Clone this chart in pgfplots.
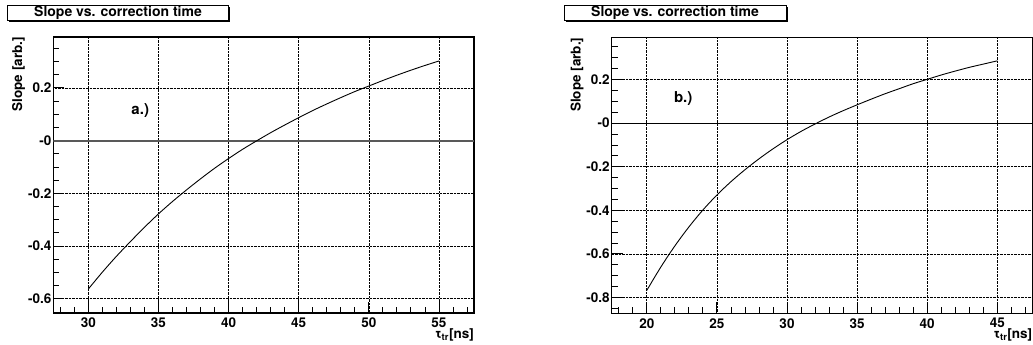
\documentclass[border=0pt]{standalone}
\usepackage{fontspec}
\setmainfont{TeX Gyre Heros}
\usepackage{pgfplots}
\pgfplotsset{compat=1.18}

\pgfplotsset{
  rootstyle/.style={
    scale only axis,
    clip mode=individual,
    width=420.7pt, height=276pt,
    axis line style={line width=1.5pt},
    tick pos=left,
    tick align=inside,
    major tick length=11pt,
    minor tick length=6pt,
    every tick/.style={black, line width=0.8pt},
    grid=major,
    major grid style={densely dotted, black, line width=0.6pt},
    tick label style={font=\bfseries\fontsize{13.5}{15}\selectfont},
    xticklabel style={yshift=-1.5pt},
    yticklabel style={xshift=1.5pt},
    /pgf/number format/assume math mode=true,
    xlabel style={at={(rel axis cs:1,0)}, anchor=north east, inner sep=0pt, yshift=-15pt, font=\bfseries\fontsize{13.5}{15}\selectfont},
    xlabel={τ\textsubscript{tr}[ns]},
  }
}

\begin{document}
\begin{tikzpicture}
\path[use as bounding box] (0,0) rectangle (1033pt,345pt);

% ---------- left panel ----------
\begin{axis}[rootstyle,
  at={(53.3pt,32pt)}, anchor=south west,
  xmin=27.5, xmax=57.5, ymin=-0.654, ymax=0.393,
  xtick={30,35,40,45,50,55}, xticklabels={30,35,40,45,50,55},
  minor xtick={28,29,...,57},
  ytick={-0.6,-0.4,-0.2,0,0.2}, yticklabels={-0.6,-0.4,-0.2,-0,0.2},
  minor ytick={-0.65,-0.6,...,0.36},
]
\addplot[black!65, line width=2pt, forget plot] coordinates {(27.5,0) (57.5,0)};
\addplot[black, line width=0.9pt, smooth, tension=0.5] coordinates {
(30,-0.563) (31,-0.499) (32,-0.439) (33,-0.383) (34,-0.329) (35,-0.278)
(36,-0.231) (37,-0.187) (38,-0.145) (39,-0.105) (40,-0.068) (41,-0.033)
(42,-0.001) (43,0.030) (44,0.059) (45,0.087) (46,0.114) (47,0.139)
(48,0.163) (49,0.186) (50,0.207) (51,0.228) (52,0.248) (53,0.267)
(54,0.285) (55,0.302)};
\node[font=\bfseries\fontsize{15}{17}\selectfont] at (axis cs:33.7,0.113) {a.)};
\node[rotate=90, anchor=south east, inner sep=0pt, font=\bfseries\fontsize{13.5}{15}\selectfont] at ([xshift=-28pt]rel axis cs:0,1) {Slope [arb.]};
\end{axis}

% ---------- right panel ----------
\begin{axis}[rootstyle,
  at={(611.7pt,31.7pt)}, anchor=south west,
  xmin=17.5, xmax=47.5, ymin=-0.873, ymax=0.394,
  xtick={20,25,30,35,40,45}, xticklabels={20,25,30,35,40,45},
  minor xtick={18,19,...,47},
  ytick={-0.8,-0.6,-0.4,-0.2,0,0.2}, yticklabels={-0.8,-0.6,-0.4,-0.2,-0,0.2},
  minor ytick={-0.85,-0.8,...,0.36},
]
\addplot[black, line width=1pt, forget plot] coordinates {(17.5,0) (47.5,0)};
\addplot[black, line width=0.9pt, smooth, tension=0.5] coordinates {
(20,-0.768) (21,-0.661) (22,-0.564) (23,-0.477) (24,-0.399) (25,-0.330)
(26,-0.269) (27,-0.214) (28,-0.164) (29,-0.118) (30,-0.076) (31,-0.038)
(32,-0.004) (33,0.028) (34,0.057) (35,0.084) (36,0.110) (37,0.135)
(38,0.158) (39,0.181) (40,0.201) (41,0.221) (42,0.239) (43,0.256)
(44,0.271) (45,0.286)};
\node[font=\bfseries\fontsize{15}{17}\selectfont] at (axis cs:22.6,0.113) {b.)};
\node[rotate=90, anchor=south east, inner sep=0pt, font=\bfseries\fontsize{13.5}{15}\selectfont] at ([xshift=-28pt]rel axis cs:0,1) {Slope [arb.]};
\end{axis}

% ---------- title boxes ----------
\fill[black] (9pt,323pt) rectangle (230pt,338pt);
\draw[black, line width=0.8pt, fill=white] (7pt,325pt) rectangle (228pt,340pt);
\node[font=\bfseries\fontsize{14}{16}\selectfont] at (118pt,332.5pt) {Slope vs. correction time};

\fill[black] (566pt,323pt) rectangle (788pt,338pt);
\draw[black, line width=0.8pt, fill=white] (564pt,325pt) rectangle (786pt,340pt);
\node[font=\bfseries\fontsize{14}{16}\selectfont] at (675pt,332.5pt) {Slope vs. correction time};
\end{tikzpicture}
\end{document}
